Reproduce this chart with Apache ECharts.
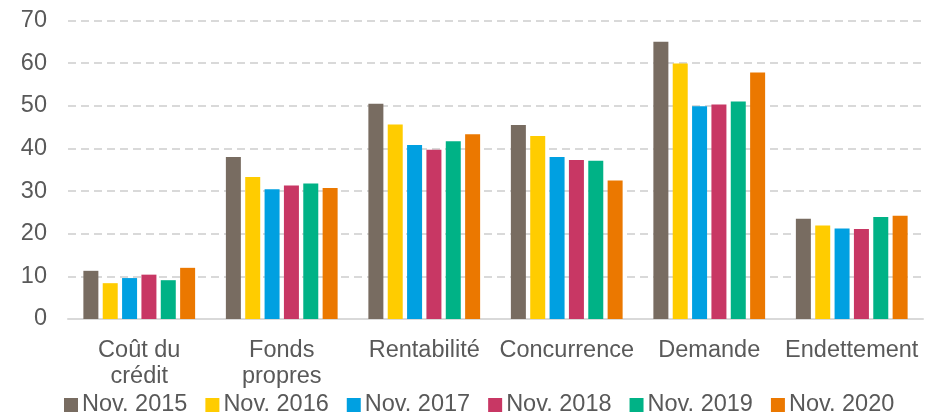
<!DOCTYPE html>
<html>
<head>
<meta charset="utf-8">
<script src="https://cdn.jsdelivr.net/npm/echarts@6/dist/echarts.min.js"></script>
<style>
  html, body { margin: 0; padding: 0; background: #fff; }
  #chart { width: 946px; height: 415px; }
</style>
</head>
<body>
<div id="chart"></div>
<script>
const categories = ['Coût du\ncrédit', 'Fonds\npropres', 'Rentabilité', 'Concurrence', 'Demande', 'Endettement'];
const seriesNames = ['Nov. 2015', 'Nov. 2016', 'Nov. 2017', 'Nov. 2018', 'Nov. 2019', 'Nov. 2020'];
const nov2015 = [11.3, 38.0, 50.5, 45.5, 65.0, 23.5];
const nov2016 = [8.4, 33.3, 45.6, 42.9, 59.9, 21.9];
const nov2017 = [9.6, 30.4, 40.8, 38.0, 49.9, 21.2];
const nov2018 = [10.4, 31.3, 39.7, 37.3, 50.3, 21.1];
const nov2019 = [9.1, 31.8, 41.7, 37.1, 51.0, 23.9];
const nov2020 = [12.0, 30.7, 43.3, 32.5, 57.8, 24.2];
const colors = ['#786C61', '#FFCC00', '#00A0E1', '#C83764', '#00B286', '#EB7800'];

const allValues = [nov2015, nov2016, nov2017, nov2018, nov2019, nov2020];
const textColor = '#595959';
const font = 'Liberation Sans, Arial, sans-serif';
const fs = 23.5;

const chart = echarts.init(document.getElementById('chart'));
chart.setOption({
  animation: false,
  color: colors,
  grid: { left: 68, right: 23, top: 20.5, bottom: 96 },
  legend: {
    top: 393,
    left: 64,
    padding: 0,
    itemWidth: 14,
    itemHeight: 14,
    itemGap: 18,
    icon: 'rect',
    textStyle: { color: textColor, fontSize: fs, fontFamily: font, padding: [0, 0, 0, -1] },
    data: seriesNames
  },
  xAxis: {
    type: 'category',
    data: categories,
    axisTick: { show: false },
    axisLine: { lineStyle: { color: '#d9d9d9', width: 2 } },
    axisLabel: { color: textColor, fontSize: fs, fontFamily: font, lineHeight: 26, margin: 19, interval: 0 }
  },
  yAxis: {
    type: 'value',
    min: 0,
    max: 70,
    interval: 10,
    axisLine: { show: false },
    axisTick: { show: false },
    axisLabel: { color: textColor, fontSize: fs, fontFamily: font, margin: 21 },
    splitLine: { lineStyle: { color: '#d9d9d9', width: 2, type: [8, 5] } }
  },
  series: seriesNames.map((name, i) => ({
    name: name,
    type: 'bar',
    data: allValues[i],
    barWidth: 15,
    barGap: '29%'
  }))
});
</script>
</body>
</html>
